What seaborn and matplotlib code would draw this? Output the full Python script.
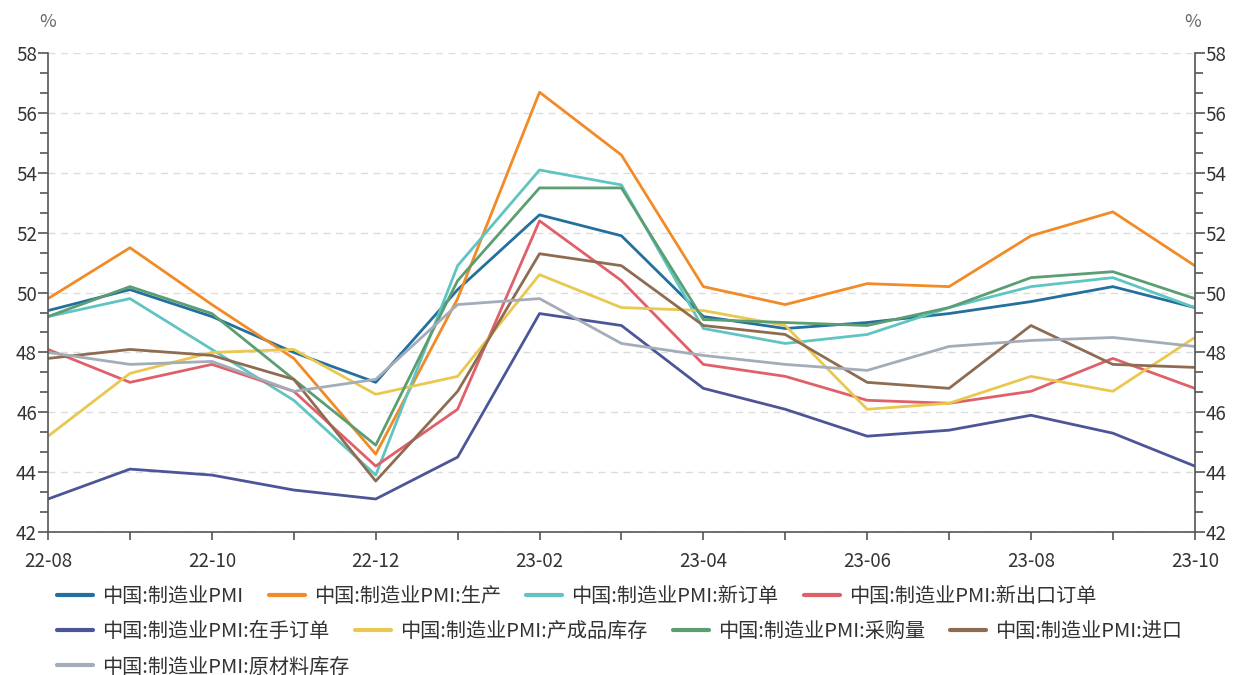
import matplotlib
matplotlib.use("Agg")
import matplotlib.pyplot as plt
from matplotlib.ticker import MultipleLocator, AutoMinorLocator, FixedLocator
from matplotlib.lines import Line2D
import seaborn as sns
import pandas as pd

months = ["22-08", "22-09", "22-10", "22-11", "22-12", "23-01", "23-02", "23-03",
          "23-04", "23-05", "23-06", "23-07", "23-08", "23-09", "23-10"]

pmi = [49.4, 50.1, 49.2, 48.0, 47.0, 50.1, 52.6, 51.9, 49.2, 48.8, 49.0, 49.3, 49.7, 50.2, 49.5]
production = [49.8, 51.5, 49.6, 47.8, 44.6, 49.8, 56.7, 54.6, 50.2, 49.6, 50.3, 50.2, 51.9, 52.7, 50.9]
new_orders = [49.2, 49.8, 48.1, 46.4, 43.9, 50.9, 54.1, 53.6, 48.8, 48.3, 48.6, 49.5, 50.2, 50.5, 49.5]
new_export_orders = [48.1, 47.0, 47.6, 46.7, 44.2, 46.1, 52.4, 50.4, 47.6, 47.2, 46.4, 46.3, 46.7, 47.8, 46.8]
backlog_orders = [43.1, 44.1, 43.9, 43.4, 43.1, 44.5, 49.3, 48.9, 46.8, 46.1, 45.2, 45.4, 45.9, 45.3, 44.2]
finished_goods = [45.2, 47.3, 48.0, 48.1, 46.6, 47.2, 50.6, 49.5, 49.4, 48.9, 46.1, 46.3, 47.2, 46.7, 48.5]
purchases = [49.2, 50.2, 49.3, 47.1, 44.9, 50.4, 53.5, 53.5, 49.1, 49.0, 48.9, 49.5, 50.5, 50.7, 49.8]
imports = [47.8, 48.1, 47.9, 47.1, 43.7, 46.7, 51.3, 50.9, 48.9, 48.6, 47.0, 46.8, 48.9, 47.6, 47.5]
raw_materials = [48.0, 47.6, 47.7, 46.7, 47.1, 49.6, 49.8, 48.3, 47.9, 47.6, 47.4, 48.2, 48.4, 48.5, 48.2]

series_names = [
    "中国:制造业PMI", "中国:制造业PMI:生产", "中国:制造业PMI:新订单",
    "中国:制造业PMI:新出口订单", "中国:制造业PMI:在手订单", "中国:制造业PMI:产成品库存",
    "中国:制造业PMI:采购量", "中国:制造业PMI:进口", "中国:制造业PMI:原材料库存",
]
series_values = [pmi, production, new_orders, new_export_orders, backlog_orders,
                 finished_goods, purchases, imports, raw_materials]
colors = ["#236f9e", "#f28a25", "#5fc4c2", "#e0606a", "#4c5597",
          "#e9c84f", "#5b9e72", "#8e6c52", "#a3adba"]

sns.set_theme(style="white")
plt.rcParams["font.family"] = ["Noto Sans CJK SC", "DejaVu Sans"]
plt.rcParams["axes.unicode_minus"] = False

rows = []
for name, vals in zip(series_names, series_values):
    for i, v in enumerate(vals):
        rows.append({"idx": i, "value": v, "series": name})
df = pd.DataFrame(rows)

fig = plt.figure(figsize=(12.33, 6.75), dpi=100)
ax = fig.add_axes([0.039, 0.212, 0.930, 0.709])

palette = dict(zip(series_names, colors))
sns.lineplot(data=df, x="idx", y="value", hue="series", hue_order=series_names,
             palette=palette, linewidth=2.0, ax=ax, legend=False, sort=False)

axis_col = "#555555"
ax.set_xlim(0, len(months) - 1)
ax.set_ylim(42, 58)
ax.yaxis.set_major_locator(MultipleLocator(2))
ax.yaxis.set_minor_locator(AutoMinorLocator(3))
ax.xaxis.set_major_locator(FixedLocator(list(range(0, len(months), 2))))
ax.xaxis.set_minor_locator(FixedLocator(list(range(1, len(months), 2))))
ax.set_xticklabels([months[i] for i in range(0, len(months), 2)])
ax.set_xlabel("")
ax.set_ylabel("")

ax.grid(axis="y", which="major", linestyle=(0, (5, 4)), color="#dcdcdc", linewidth=1.0)
ax.set_axisbelow(True)

ax.spines["top"].set_visible(False)
for side in ["left", "right", "bottom"]:
    ax.spines[side].set_color(axis_col)
    ax.spines[side].set_linewidth(1.2)

ax.tick_params(axis="both", which="both", direction="out", color=axis_col,
               labelcolor="#333333", labelsize=13.5, width=1.2)
ax.tick_params(axis="y", which="major", length=7, left=True, right=True,
               labelleft=True, labelright=True, pad=1)
ax.tick_params(axis="y", which="minor", length=6, left=True, right=True)
ax.tick_params(axis="x", which="both", length=6, bottom=True, pad=8)

fig.text(0.039, 0.968, "%", ha="center", va="center", fontsize=13, color="#666666")
fig.text(0.967, 0.968, "%", ha="center", va="center", fontsize=13, color="#666666")

handles = [Line2D([0], [0], color=c, linewidth=3) for c in colors]
row_groups = [[0, 1, 2, 3], [4, 5, 6, 7], [8]]
row_y = [0.116, 0.064, 0.012]
for grp, y in zip(row_groups, row_y):
    fig.legend([handles[i] for i in grp], [series_names[i] for i in grp],
               loc="center left", bbox_to_anchor=(0.0462, y), ncol=len(grp),
               frameon=False, fontsize=14.5, handlelength=1.8,
               handletextpad=0.45, columnspacing=1.25, borderaxespad=0,
               borderpad=0, labelcolor="#333333")

fig.savefig("out.png", dpi=100, facecolor="white")
